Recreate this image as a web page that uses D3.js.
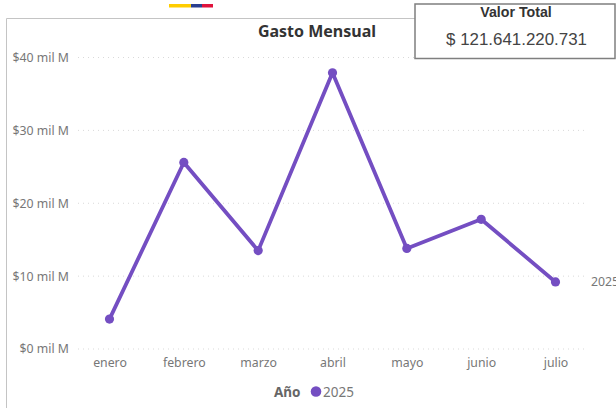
<!DOCTYPE html>
<html><head><meta charset="utf-8">
<script src="https://cdn.jsdelivr.net/npm/d3@7/dist/d3.min.js"></script>
<style>html,body{margin:0;padding:0;background:#fff;overflow:hidden}svg{display:block}</style>
</head><body><svg id="c" width="616" height="408"></svg>
<script>
const months=["enero","febrero","marzo","abril","mayo","junio","julio"];
const gasto=[4.1,25.6,13.5,37.9,13.8,17.8,9.2];
const yTicks=[0,10,20,30,40];
const seriesName="2025";
const legendTitle="Año";
const chartTitle="Gasto Mensual";
const kpiTitle="Valor Total";
const kpiValue="$ 121.641.220.731";
const flagStripes=[{c:"#FFCD00",w:22},{c:"#2A3F8F",w:11},{c:"#E0123C",w:11}];

const F="'Noto Sans',sans-serif", purple="#744EC2", grey="#777777";
const svg=d3.select("#c");
const x=d3.scalePoint().domain(months).range([109.5,555.5]);
const y=d3.scaleLinear().domain([0,40]).range([349,57.5]);

// frame
svg.append("path").attr("d","M6.5,408V18.5H416").attr("fill","none").attr("stroke","#c4c4c4").attr("stroke-width",1);

// flag
let fx=169;
flagStripes.forEach(s=>{svg.append("rect").attr("x",fx).attr("y",4).attr("width",s.w).attr("height",3.5).attr("fill",s.c);fx+=s.w;});

// grid
svg.append("g").selectAll("line").data(yTicks).join("line")
 .attr("x1",78).attr("x2",586).attr("y1",d=>y(d)).attr("y2",d=>y(d))
 .attr("stroke","#d9d9d9").attr("stroke-width",1).attr("stroke-dasharray","1 4");

// axes
const yAxis=d3.axisLeft(y).tickValues(yTicks).tickSize(0).tickPadding(0).tickFormat(d=>`$${d} mil M`);
const gy=svg.append("g").attr("transform","translate(69,0)").call(yAxis);
const xAxis=d3.axisBottom(x).tickSize(0).tickPadding(0);
const gx=svg.append("g").attr("transform","translate(0,357)").call(xAxis);
[gy,gx].forEach(g=>{g.select(".domain").remove();
 g.selectAll("text").attr("font-family",F).attr("font-size",12.3).attr("fill",grey);});
gy.selectAll("text").attr("dy","0.32em");
gx.selectAll("text").attr("y",0).attr("dy","0.85em");

// line
const line=d3.line().x((d,i)=>x(months[i])).y(d=>y(d));
svg.append("path").datum(gasto).attr("d",line).attr("fill","none").attr("stroke",purple).attr("stroke-width",3.8).attr("stroke-linejoin","round");
svg.append("g").selectAll("circle").data(gasto).join("circle")
 .attr("cx",(d,i)=>x(months[i])).attr("cy",d=>y(d)).attr("r",4.6).attr("fill",purple);

// end label
svg.append("text").attr("x",591).attr("y",286).attr("font-family",F).attr("font-size",12.3).attr("fill",grey).text(seriesName);

// title
svg.append("text").attr("x",317).attr("y",37).attr("text-anchor","middle").attr("font-family",F).attr("font-weight",700).attr("font-size",16).attr("fill","#333").text(chartTitle);

// KPI box
svg.append("rect").attr("x",415).attr("y",4).attr("width",200).attr("height",54.5).attr("fill","#fff").attr("stroke","#7f7f7f").attr("stroke-width",1.5);
svg.append("text").attr("x",516).attr("y",17).attr("text-anchor","middle").attr("font-family","'Liberation Sans',sans-serif").attr("font-weight",700).attr("font-size",14.2).attr("fill","#333").text(kpiTitle);
svg.append("text").attr("x",516.5).attr("y",45).attr("text-anchor","middle").attr("font-family","'Liberation Sans',sans-serif").attr("font-size",16.9).attr("fill","#444").text(kpiValue);

// legend
svg.append("text").attr("x",274).attr("y",397).attr("font-family",F).attr("font-weight",700).attr("font-size",13.5).attr("fill","#666").text(legendTitle);
svg.append("circle").attr("cx",316).attr("cy",391.5).attr("r",5.3).attr("fill",purple);
svg.append("text").attr("x",323).attr("y",397).attr("font-family",F).attr("font-size",13.5).attr("fill",grey).text(seriesName);
</script></body></html>
